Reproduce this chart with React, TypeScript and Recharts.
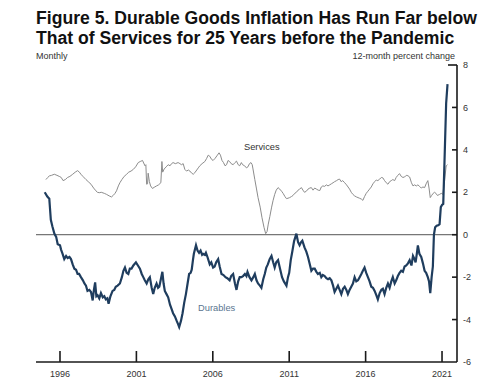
import React from 'react'
import { LineChart, Line, XAxis, YAxis, ReferenceLine } from 'recharts'

// durable goods, 12-month percent change
const durYears = [
  1995.0, 1995.17, 1995.3, 1995.4, 1995.5, 1995.63, 1995.75, 1995.85, 1996.0, 1996.07, 1996.17, 1996.28,
  1996.4, 1996.5, 1996.62, 1996.72, 1996.83, 1996.94, 1997.05, 1997.15, 1997.25, 1997.37, 1997.5, 1997.6,
  1997.7, 1997.8, 1997.92, 1998.03, 1998.14, 1998.22, 1998.3, 1998.38, 1998.46, 1998.57, 1998.68, 1998.8,
  1998.9, 1999.0, 1999.1, 1999.18, 1999.3, 1999.44, 1999.55, 1999.65, 1999.77, 1999.92, 2000.05, 2000.15,
  2000.25, 2000.36, 2000.47, 2000.57, 2000.68, 2000.8, 2000.97, 2001.1, 2001.23, 2001.35, 2001.45, 2001.55,
  2001.67, 2001.78, 2001.88, 2002.0, 2002.1, 2002.2, 2002.32, 2002.42, 2002.5, 2002.6, 2002.7, 2002.78,
  2002.86, 2002.97, 2003.08, 2003.2, 2003.3, 2003.4, 2003.52, 2003.63, 2003.72, 2003.8, 2003.92, 2004.02,
  2004.13, 2004.24, 2004.35, 2004.45, 2004.55, 2004.62, 2004.7, 2004.76, 2004.9, 2005.0, 2005.1, 2005.2,
  2005.3, 2005.37, 2005.48, 2005.55, 2005.65, 2005.8, 2005.9, 2006.02, 2006.12, 2006.22, 2006.35, 2006.45,
  2006.57, 2006.7, 2006.83, 2006.95, 2007.1, 2007.2, 2007.33, 2007.45, 2007.55, 2007.66, 2007.76, 2007.87,
  2007.98, 2008.1, 2008.2, 2008.27, 2008.4, 2008.53, 2008.65, 2008.75, 2008.86, 2008.96, 2009.08, 2009.18,
  2009.3, 2009.4, 2009.5, 2009.6, 2009.72, 2009.84, 2009.95, 2010.05, 2010.15, 2010.27, 2010.4, 2010.53,
  2010.65, 2010.82, 2010.92, 2011.0, 2011.1, 2011.2, 2011.32, 2011.47, 2011.58, 2011.68, 2011.78, 2011.86,
  2012.0, 2012.12, 2012.23, 2012.35, 2012.45, 2012.56, 2012.67, 2012.78, 2012.88, 2013.0, 2013.1, 2013.2,
  2013.32, 2013.43, 2013.54, 2013.65, 2013.76, 2013.87, 2013.97, 2014.08, 2014.19, 2014.3, 2014.41, 2014.52,
  2014.63, 2014.74, 2014.84, 2014.95, 2015.06, 2015.17, 2015.28, 2015.39, 2015.5, 2015.61, 2015.72, 2015.82,
  2015.93, 2016.04, 2016.15, 2016.26, 2016.37, 2016.48, 2016.59, 2016.7, 2016.8, 2016.92, 2017.03, 2017.13,
  2017.24, 2017.35, 2017.46, 2017.57, 2017.68, 2017.78, 2017.9, 2018.0, 2018.11, 2018.22, 2018.33, 2018.44,
  2018.55, 2018.66, 2018.77, 2018.88, 2019.0, 2019.1, 2019.2, 2019.27, 2019.35, 2019.42, 2019.52, 2019.64,
  2019.75, 2019.86, 2019.96, 2020.07, 2020.15, 2020.23, 2020.32, 2020.4, 2020.47, 2020.55, 2020.65, 2020.75,
  2020.84, 2020.92, 2021.0, 2021.08, 2021.16, 2021.27, 2021.36,
]
const durVals = [
  2.0, 1.8, 1.7, 0.7, 0.4, 0.05, -0.1, -0.45, -0.5, -0.7, -0.9, -1.15,
  -1.0, -1.1, -1.05, -1.15, -1.4, -1.6, -1.65, -1.85, -1.85, -2.0, -2.15, -2.3,
  -2.4, -2.65, -2.6, -2.7, -3.1, -2.6, -2.25, -2.9, -2.85, -3.0, -2.75, -2.95,
  -2.9, -3.05, -3.0, -3.25, -2.9, -2.65, -2.6, -2.45, -2.4, -2.3, -2.0, -1.7,
  -1.55, -1.8, -1.85, -1.6, -1.6, -1.45, -1.3, -1.45, -1.6, -1.85, -2.0, -2.15,
  -2.3, -2.1, -2.0, -2.5, -2.8, -2.5, -2.3, -2.5, -2.45, -2.1, -1.75, -2.3,
  -2.65, -2.8, -2.95, -3.3, -3.5, -3.7, -3.85, -4.05, -4.2, -4.35, -4.05, -3.7,
  -3.2, -2.8, -2.3, -1.85, -1.8, -1.65, -1.2, -0.9, -0.5, -0.75, -0.85, -0.75,
  -0.95, -0.9, -0.95, -0.85, -1.05, -1.4, -1.3, -1.55, -1.5, -1.3, -1.15, -1.5,
  -1.85, -1.9, -2.0, -2.05, -2.15, -1.95, -1.85, -2.3, -2.6, -2.2, -2.0, -2.0,
  -1.95, -1.85, -1.95, -1.75, -2.0, -2.15, -2.0, -1.85, -2.15, -2.3, -2.4, -2.5,
  -2.1, -1.85, -1.55, -1.4, -1.15, -1.0, -1.3, -1.55, -1.3, -1.2, -1.6, -2.0,
  -2.2, -2.4, -2.0, -1.8, -1.2, -0.8, -0.3, 0.05, -0.35, -0.5, -0.35, -0.28,
  -0.6, -0.8, -1.05, -1.4, -1.7, -1.6, -1.6, -1.75, -1.85, -1.8, -2.0, -1.9,
  -1.95, -2.05, -2.1, -2.05, -2.15, -2.4, -2.7, -2.55, -2.4, -2.6, -2.8, -2.55,
  -2.45, -2.6, -2.8, -2.6, -2.45, -2.3, -2.0, -2.2, -2.15, -2.0, -1.85, -1.7,
  -1.55, -1.8, -2.0, -2.2, -2.45, -2.5, -2.65, -2.85, -3.05, -2.75, -2.6, -2.55,
  -2.8, -2.5, -2.3, -2.5, -2.2, -2.0, -2.3, -2.15, -1.95, -1.8, -1.7, -1.75,
  -1.5, -1.45, -1.35, -1.2, -1.45, -1.0, -1.15, -1.3, -0.9, -0.5, -0.9, -1.05,
  -1.35, -1.7, -1.8, -2.0, -2.2, -2.75, -2.0, -1.5, 0.0, 0.35, 0.42, 0.45,
  0.5, 1.3, 1.4, 1.45, 3.4, 6.2, 7.1,
]

// services, 12-month percent change
const svcYears = [
  1995.08, 1995.2, 1995.3, 1995.45, 1995.63, 1995.8, 1995.95, 1996.08, 1996.2, 1996.35, 1996.5, 1996.65,
  1996.83, 1997.0, 1997.15, 1997.27, 1997.37, 1997.5, 1997.7, 1997.85, 1998.03, 1998.2, 1998.35, 1998.45,
  1998.57, 1998.7, 1998.9, 1999.05, 1999.22, 1999.37, 1999.48, 1999.6, 1999.7, 1999.82, 1999.92, 2000.05,
  2000.2, 2000.36, 2000.5, 2000.65, 2000.8, 2000.95, 2001.12, 2001.25, 2001.4, 2001.56, 2001.62, 2001.67,
  2001.73, 2001.77, 2001.85, 2001.93, 2002.05, 2002.2, 2002.32, 2002.45, 2002.6, 2002.67, 2002.72, 2002.82,
  2002.95, 2003.08, 2003.2, 2003.3, 2003.4, 2003.55, 2003.73, 2003.85, 2003.95, 2004.06, 2004.17, 2004.28,
  2004.4, 2004.5, 2004.62, 2004.72, 2004.82, 2004.95, 2005.05, 2005.15, 2005.3, 2005.48, 2005.6, 2005.7,
  2005.8, 2005.92, 2006.02, 2006.15, 2006.3, 2006.41, 2006.5, 2006.6, 2006.7, 2006.8, 2006.9, 2007.0,
  2007.1, 2007.2, 2007.33, 2007.45, 2007.55, 2007.66, 2007.76, 2007.87, 2007.95, 2008.08, 2008.2, 2008.3,
  2008.4, 2008.5, 2008.58, 2008.63, 2008.75, 2008.85, 2008.96, 2009.1, 2009.22, 2009.35, 2009.46, 2009.55,
  2009.63, 2009.73, 2009.85, 2009.94, 2010.05, 2010.15, 2010.27, 2010.38, 2010.5, 2010.6, 2010.72, 2010.82,
  2010.92, 2011.03, 2011.15, 2011.25, 2011.36, 2011.47, 2011.58, 2011.68, 2011.8, 2011.9, 2012.0, 2012.12,
  2012.23, 2012.35, 2012.45, 2012.56, 2012.67, 2012.78, 2012.9, 2013.0, 2013.1, 2013.2, 2013.32, 2013.43,
  2013.54, 2013.65, 2013.76, 2013.87, 2013.97, 2014.1, 2014.2, 2014.3, 2014.4, 2014.5, 2014.63, 2014.75,
  2014.85, 2014.95, 2015.06, 2015.17, 2015.28, 2015.4, 2015.5, 2015.6, 2015.72, 2015.82, 2015.93, 2016.04,
  2016.15, 2016.26, 2016.37, 2016.48, 2016.59, 2016.7, 2016.8, 2016.92, 2017.03, 2017.13, 2017.24, 2017.35,
  2017.46, 2017.57, 2017.68, 2017.78, 2017.9, 2018.0, 2018.11, 2018.22, 2018.33, 2018.44, 2018.55, 2018.66,
  2018.77, 2018.88, 2019.0, 2019.1, 2019.2, 2019.32, 2019.42, 2019.53, 2019.64, 2019.75, 2019.86, 2019.96,
  2020.07, 2020.15, 2020.23, 2020.32, 2020.42, 2020.51, 2020.6, 2020.7, 2020.84, 2020.95, 2021.05, 2021.16,
  2021.27, 2021.36,
]
const svcVals = [
  2.6, 2.7, 2.77, 2.8, 2.85, 2.8, 2.75, 2.7, 2.55, 2.6, 2.7, 2.75,
  2.85, 2.95, 3.02, 2.95, 2.85, 2.75, 2.6, 2.5, 2.38, 2.2, 2.07, 2.0,
  1.98, 2.0, 1.95, 1.9, 1.83, 1.78, 1.85, 1.95, 2.07, 2.3, 2.45, 2.6,
  2.75, 2.85, 2.95, 3.0, 3.08, 3.2, 3.4, 3.45, 3.5, 3.25, 3.3, 2.38,
  2.4, 2.9, 2.5, 2.3, 2.18, 2.25, 2.3, 2.35, 2.45, 3.45, 2.95, 3.1,
  3.2, 3.3, 3.25, 3.35, 3.4, 3.35, 3.4, 3.35, 3.3, 3.35, 3.08, 3.0,
  3.05, 3.0, 2.9, 2.85, 2.92, 3.05, 3.15, 3.25, 3.35, 3.45, 3.6, 3.75,
  3.7, 3.55, 3.5, 3.6, 3.75, 3.86, 3.75, 3.5, 3.4, 3.25, 3.3, 3.5,
  3.45, 3.35, 3.3, 3.4, 3.47, 3.3, 3.25, 3.4, 3.3, 3.25, 3.15, 3.2,
  3.35, 3.4, 3.3, 3.1, 2.6, 2.2, 1.75, 1.3, 0.8, 0.35, 0.05, 0.15,
  0.5, 0.85, 1.3, 1.6, 1.9, 2.1, 2.22, 2.15, 2.05, 1.95, 1.8, 1.7,
  1.72, 1.75, 1.8, 1.85, 1.95, 2.0, 2.1, 2.15, 2.22, 2.1, 2.0, 2.05,
  2.15, 2.2, 2.22, 2.1, 2.2, 2.15, 2.1, 2.08, 2.25, 2.3, 2.28, 2.35,
  2.3, 2.35, 2.4, 2.45, 2.5, 2.55, 2.6, 2.62, 2.5, 2.55, 2.45, 2.35,
  2.25, 2.15, 2.0, 1.9, 1.83, 1.78, 1.75, 1.72, 1.68, 1.62, 1.8, 1.95,
  2.05, 2.15, 2.25, 2.4, 2.5, 2.58, 2.55, 2.62, 2.7, 2.68, 2.55, 2.45,
  2.38, 2.5, 2.55, 2.6, 2.55, 2.7, 2.8, 2.88, 2.75, 2.7, 2.72, 2.8,
  2.78, 2.72, 2.45, 2.3, 2.35, 2.3, 2.35, 2.28, 2.2, 2.25, 2.22, 2.4,
  2.55, 2.2, 1.75, 1.85, 1.95, 2.0, 1.95, 1.85, 1.9, 1.95, 1.9, 2.5,
  3.24, 3.3,
]

const yearTicks = [1996, 2001, 2006, 2011, 2016, 2021]
const pctTicks = [-6, -4, -2, 0, 2, 4, 6, 8]

// merge both series on one year column
const rowMap: Record<string, any> = {}
durYears.forEach((y, i) => { rowMap[y.toFixed(2)] = { ...(rowMap[y.toFixed(2)] || { year: y }), durables: durVals[i] } })
svcYears.forEach((y, i) => { rowMap[y.toFixed(2)] = { ...(rowMap[y.toFixed(2)] || { year: y }), services: svcVals[i] } })
const rows = Object.values(rowMap).sort((a: any, b: any) => a.year - b.year)

const INK = '#1a1a1a'
const FONT = '"Liberation Sans", Arial, Helvetica, sans-serif'

const YearTick = ({ x, y, payload }: any) => (
  <g>
    <line x1={x} x2={x} y1={y} y2={y - 11} stroke={INK} strokeWidth={1.6} />
    <text x={x} y={y + 12} textAnchor="middle" dy="0.35em" fontSize={9} fill="#333" fontFamily={FONT}>
      {payload.value}
    </text>
  </g>
)

const RightTick = ({ x, y, payload }: any) => {
  const len = payload.value === 8 ? 9 : 5
  return (
    <g>
      {payload.value !== -6 && <line x1={x} x2={x - len} y1={y} y2={y} stroke={INK} strokeWidth={1.6} />}
      <text x={x + 6} y={y} dy="0.35em" fontSize={9} fill="#333" fontFamily={FONT}>{payload.value}</text>
    </g>
  )
}

const LeftTick = ({ x, y, payload }: any) => {
  if (payload.value === -6 || payload.value === 0) return <g />
  const len = payload.value === 8 ? 9 : 6
  return <line x1={x} x2={x + len} y1={y} y2={y} stroke={INK} strokeWidth={1.6} />
}

export default function App() {
  return (
    <div style={{ position: 'absolute', left: 0, top: 0, width: 485, height: 386, background: '#fff', fontFamily: FONT, color: '#111' }}>
      <div style={{ position: 'absolute', left: 36, top: 9, fontSize: 17.6, fontWeight: 700, lineHeight: '19.5px', whiteSpace: 'nowrap' }}>
        Figure 5. Durable Goods Inflation Has Run Far below<br />
        That of Services for 25 Years before the Pandemic
      </div>
      <div style={{ position: 'absolute', left: 36, top: 51, fontSize: 9, color: '#333' }}>Monthly</div>
      <div style={{ position: 'absolute', right: 30, top: 51, fontSize: 9, color: '#333' }}>12-month percent change</div>

      <LineChart width={485} height={386} data={rows} margin={{ top: 65, right: 0, bottom: 0, left: 36 }}>
        <XAxis
          dataKey="year"
          type="number"
          domain={[1994.43, 2021.98]}
          ticks={yearTicks}
          interval={0}
          height={24}
          tickSize={0}
          tickMargin={0}
          tick={<YearTick />}
          axisLine={{ stroke: INK, strokeWidth: 1.6 }}
          tickLine={false}
          allowDataOverflow
        />
        <YAxis
          yAxisId="left"
          orientation="left"
          type="number"
          domain={[-6, 8]}
          ticks={pctTicks}
          width={0}
          tickSize={0}
          tickMargin={0}
          tick={<LeftTick />}
          tickLine={false}
          axisLine={{ stroke: INK, strokeWidth: 1.6 }}
        />
        <YAxis
          yAxisId="right"
          orientation="right"
          type="number"
          domain={[-6, 8]}
          ticks={pctTicks}
          width={28}
          tickSize={0}
          tickMargin={0}
          tick={<RightTick />}
          tickLine={false}
          axisLine={{ stroke: INK, strokeWidth: 1.6 }}
        />
        <ReferenceLine yAxisId="right" y={0} stroke="#555" strokeWidth={1} />
        <Line
          yAxisId="right"
          dataKey="services"
          type="linear"
          stroke="#8c8c8c"
          strokeWidth={1}
          dot={false}
          connectNulls
          isAnimationActive={false}
        />
        <Line
          yAxisId="right"
          dataKey="durables"
          type="linear"
          stroke="#1f3d5e"
          strokeWidth={2.2}
          dot={false}
          connectNulls
          isAnimationActive={false}
        />
      </LineChart>

      <div style={{ position: 'absolute', left: 244, top: 142, fontSize: 9.3, color: '#333' }}>Services</div>
      <div style={{ position: 'absolute', left: 198, top: 303, fontSize: 9.3, color: '#5a7590' }}>Durables</div>
    </div>
  )
}
